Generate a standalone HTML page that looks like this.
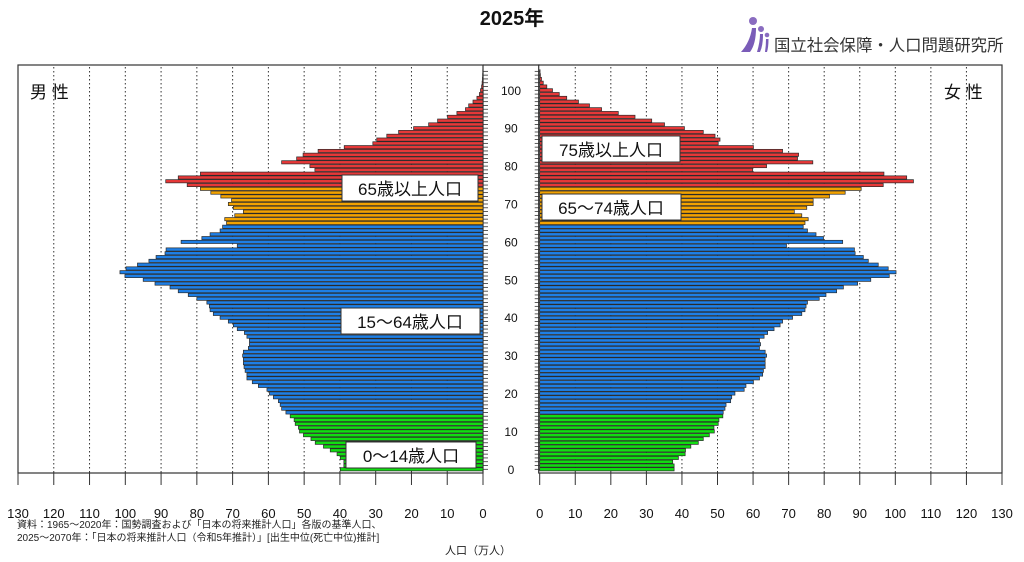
<!DOCTYPE html>
<html><head><meta charset="utf-8">
<style>
html,body{margin:0;padding:0;background:#fff;}
svg{display:block;font-family:"Liberation Sans","Noto Sans CJK JP",sans-serif;}
</style></head>
<body>
<svg id="chart" width="1024" height="562" viewBox="0 0 1024 562" xmlns="http://www.w3.org/2000/svg">
<text x="512" y="25" text-anchor="middle" font-size="20" font-weight="bold" fill="#111">2025年</text>
<g>
<circle cx="753" cy="21" r="4" fill="#8a6cc0"/>
<circle cx="761" cy="29" r="3" fill="#8a6cc0"/>
<circle cx="767" cy="35" r="2.3" fill="#8a6cc0"/>
<path d="M741 52 Q750 42 752 28 L756 28 Q756 44 750 52 Z" fill="#7a5cb8"/>
<path d="M757 52 Q760 42 760 34 L763 34 Q763 46 760 52 Z" fill="#7a5cb8"/>
<path d="M765 52 Q766 45 766 39 L768.5 39 Q768.5 47 767 52 Z" fill="#7a5cb8"/>
<text x="774" y="51" font-size="16.4" fill="#333">国立社会保障・人口問題研究所</text>
</g>
<g id="frames"></g>
<g id="grid"></g>
<g id="bars"></g>
<g id="axes"></g>
<g id="labels">
<text x="30" y="98" font-size="17" fill="#111">男 性</text>
<text x="944" y="98" font-size="17" fill="#111">女 性</text>
<g><rect x="342" y="175" width="136" height="26" fill="#fff" stroke="#333" stroke-width="1"/><text x="410" y="195" text-anchor="middle" font-size="17" fill="#111">65歳以上人口</text></g>
<g><rect x="341" y="308" width="139" height="26" fill="#fff" stroke="#333" stroke-width="1"/><text x="410" y="328" text-anchor="middle" font-size="17" fill="#111">15〜64歳人口</text></g>
<g><rect x="346" y="442" width="130" height="26" fill="#fff" stroke="#333" stroke-width="1"/><text x="411" y="462" text-anchor="middle" font-size="17" fill="#111">0〜14歳人口</text></g>
<g><rect x="542" y="136" width="138" height="26" fill="#fff" stroke="#333" stroke-width="1"/><text x="611" y="156" text-anchor="middle" font-size="17" fill="#111">75歳以上人口</text></g>
<g><rect x="542" y="194" width="139" height="26" fill="#fff" stroke="#333" stroke-width="1"/><text x="611" y="214" text-anchor="middle" font-size="17" fill="#111">65〜74歳人口</text></g>
</g>
<text x="17" y="528" font-size="10" fill="#222">資料：1965〜2020年：国勢調査および「日本の将来推計人口」各版の基準人口、</text>
<text x="17" y="541" font-size="10" fill="#222">2025〜2070年：「日本の将来推計人口（令和5年推計）」[出生中位(死亡中位)推計]</text>
<text x="478" y="554" text-anchor="middle" font-size="11" fill="#222">人口（万人）</text>
</svg>
<script>
// ages 0..105
const ages = Array.from({length:106},(_,i)=>i);
const maleValues = [39.9,38.9,38.9,39.9,40.8,42.7,44.6,46.9,48.1,50.2,51.3,51.6,52.5,52.8,53.9,
55.1,56.3,56.7,57.2,58.6,59.7,60.4,62.8,64.5,66.0,66.0,66.5,66.8,67.0,67.0,
67.2,67.0,65.6,65.3,65.3,66.0,66.7,68.7,69.8,71.2,73.5,75.4,76.3,76.5,77.2,
80.0,82.4,85.2,87.5,91.7,95.0,100.1,101.5,99.8,96.6,93.4,91.4,88.9,88.6,68.7,
84.4,78.6,76.3,73.5,72.8,71.7,72.2,69.4,67.0,69.8,71.2,70.3,73.3,76.1,79.0,
82.7,88.7,85.2,79.0,47.0,48.4,56.3,52.1,50.3,46.1,38.8,30.8,29.7,26.9,23.6,
19.4,15.2,12.7,9.9,7.3,4.9,4.0,2.8,1.7,1.0,0.7,0.4,0.25,0.15,0.1,0.05];
const femaleValues = [37.8,37.8,37.4,39.0,40.9,41.0,42.5,44.6,46.0,47.7,49.1,49.0,50.2,50.4,51.5,
51.6,52.1,52.4,53.7,54.0,54.9,57.5,58.0,60.1,61.8,62.7,62.9,63.4,63.4,63.4,
63.8,63.4,61.8,62.1,61.8,63.1,64.1,65.9,67.6,68.3,71.1,73.7,74.6,74.9,75.3,
78.6,80.5,83.5,85.4,89.4,93.1,98.3,100.2,98.0,95.2,92.4,91.0,88.7,88.5,69.4,
85.2,79.8,77.7,75.3,74.1,74.6,75.5,73.7,71.6,75.1,76.9,76.9,81.5,85.9,90.4,
96.6,105.1,103.2,96.8,59.9,63.8,76.8,72.5,72.8,68.3,60.1,50.2,50.7,49.3,46.0,
40.7,35.1,31.5,26.8,22.1,17.4,14.0,10.9,7.6,5.5,3.6,2.0,1.0,0.5,0.2,0.1];
const xTicks = [0,10,20,30,40,50,60,70,80,90,100,110,120,130];
const ageTicks = [0,10,20,30,40,50,60,70,80,90,100];

const NS="http://www.w3.org/2000/svg";
const L0=483, L130=18, R0=539.7, R130=1002;
const TOP=65, BASE=473;
function xMale(v){return L0-(L0-L130)*v/130;}
function xFemale(v){return R0+(R130-R0)*v/130;}
function yAge(a){return 469.3-3.79*a;}
function color(a){
  if(a<15) return "#11dd11";
  if(a<65) return "#1e7fe6";
  if(a<75) return "#f2a200";
  return "#e63838";
}
function mk(tag,attrs,parent){const e=document.createElementNS(NS,tag);for(const k in attrs)e.setAttribute(k,attrs[k]);parent.appendChild(e);return e;}
const frames=document.getElementById('frames'), grid=document.getElementById('grid'), bars=document.getElementById('bars'), axes=document.getElementById('axes');

let f1=mk('rect',{x:L130,y:TOP,width:L0-L130,height:BASE-TOP,fill:'none',stroke:'#333','stroke-width':1.2},frames);


let f2=mk('rect',{x:R0-1,y:TOP,width:R130-R0+1,height:BASE-TOP,fill:'none',stroke:'#333','stroke-width':1.2},frames);


let tl=mk('line',{x1:L0,y1:TOP,x2:R0,y2:TOP,stroke:'#333','stroke-width':1.2},frames);



xTicks.forEach(t=>{
  if(t>0&&t<130){
    let g1=mk('line',{x1:xMale(t),y1:TOP+2,x2:xMale(t),y2:BASE,stroke:'#333','stroke-width':1,'stroke-dasharray':'1.5,2.5'},grid);
    
    
    let g2=mk('line',{x1:xFemale(t),y1:TOP+2,x2:xFemale(t),y2:BASE,stroke:'#333','stroke-width':1,'stroke-dasharray':'1.5,2.5'},grid);
    
    
  }
  let k1=mk('line',{x1:xMale(t),y1:BASE,x2:xMale(t),y2:BASE+12,stroke:'#333','stroke-width':1},axes);
  
  
  let k2=mk('line',{x1:xFemale(t),y1:BASE,x2:xFemale(t),y2:BASE+12,stroke:'#333','stroke-width':1},axes);
  
  
  let t1=mk('text',{x:xMale(t),y:518,'text-anchor':'middle','font-size':13,fill:'#111'},axes);
  t1.textContent=t;
  
  
  let t2=mk('text',{x:xFemale(t),y:518,'text-anchor':'middle','font-size':13,fill:'#111'},axes);
  t2.textContent=t;
  
  
});

ages.forEach((a,i)=>{
  const y=yAge(a)-1.6;
  const m=maleValues[i], fv=femaleValues[i];
  let b1=mk('rect',{x:xMale(m),y:y,width:L0-xMale(m),height:3.2,fill:color(a),stroke:'#2a2a2a','stroke-width':0.7},bars);
  
  
  let b2=mk('rect',{x:R0,y:y,width:xFemale(fv)-R0,height:3.2,fill:color(a),stroke:'#2a2a2a','stroke-width':0.7},bars);
  
  
  let k1=mk('line',{x1:L0,y1:yAge(a),x2:L0+5,y2:yAge(a),stroke:'#333','stroke-width':0.8},axes);
  
  
  let k2=mk('line',{x1:R0-5,y1:yAge(a),x2:R0,y2:yAge(a),stroke:'#333','stroke-width':0.8},axes);
  
  
});
ageTicks.forEach(a=>{
  let t=mk('text',{x:511,y:yAge(a)+4.5,'text-anchor':'middle','font-size':12,fill:'#111'},axes);
  t.textContent=a;
  
  
});
</script>
</body></html>
